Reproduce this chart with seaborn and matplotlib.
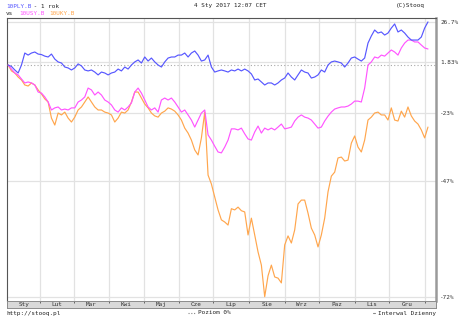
import numpy as np
import pandas as pd
import matplotlib
matplotlib.use("Agg")
import matplotlib.pyplot as plt
import matplotlib.dates as mdates
import seaborn as sns

# ---------------- data ----------------
symbols = ["10PLY.B", "10USY.B", "10UKY.B"]
start_date = "2016-01-04"
end_date = "2017-01-04"

pl_pct = [0, -0.8, -2.7, -4.3, 0, 6.8, 5.6, 6.8, 7.4, 6.2, 5.9, 5.0, 4.5, 6.2, 3.3, 1.7,
          1.1, -1.1, -1.6, -2.7, -1.6, 0.6, -0.5, -2.7, -3.2, -2.7, -3.8, -5.3, -3.8, -4.3,
          -5.3, -4.3, -3.8, -2.2, -3.2, -1.1, -2.2, 0, 1.7, 2.8, 1.1, 4.5, 2.2, 3.9, 1.7, 0,
          -1.1, 1.7, 3.9, 4.5, 4.5, 5.6, 5.6, 6.8, 4.5, 6.8, 8.0, 5.6, 2.2, 2.8, 5.6, -1.1,
          -3.8, -3.2, -2.7, -3.2, -3.8, -2.7, -3.2, -2.2, -3.2, -2.2, -3.2, -4.8, -7.9, -7.4,
          -8.9, -10.4, -9.4, -9.4, -10.4, -9.4, -7.9, -6.9, -4.3, -6.4, -7.9, -5.3, -2.7, -3.8,
          -4.3, -6.9, -6.4, -5.3, -2.7, -3.8, 0, 1.7, 2.2, 1.7, 1.1, -1.1, 1.1, 3.9, 4.5, 3.3,
          2.2, 3.9, 12.8, 17.3, 21.2, 19.2, 19.9, 17.9, 19.2, 22.5, 25.3, 19.9, 21.2, 19.2,
          16.6, 14.7, 14.7, 14.7, 16.6, 22.5, 26.7]

us_pct = [0, -2.2, -4.3, -5.3, -7.4, -9.4, -8.9, -9.4, -10.4, -13.8, -14.3, -16.1, -18.4,
          -21.9, -21.0, -20.6, -21.9, -21.5, -21.9, -21.0, -21.0, -18.4, -17.5, -16.1, -11.9,
          -12.8, -15.2, -13.8, -15.2, -17.5, -18.4, -19.7, -21.9, -22.8, -21.0, -21.9, -20.6,
          -18.8, -13.8, -11.9, -14.3, -17.5, -20.6, -21.9, -21.0, -22.8, -17.5, -16.6, -17.5,
          -16.6, -18.4, -20.6, -22.8, -21.9, -24.0, -26.1, -28.9, -26.1, -23.2, -21.9, -31.9,
          -33.8, -36.0, -38.0, -38.3, -36.3, -33.8, -29.6, -29.6, -30.0, -29.3, -31.5, -33.4,
          -33.8, -30.8, -28.5, -31.2, -29.3, -30.0, -29.3, -30.0, -28.9, -27.7, -29.6, -29.3,
          -28.9, -26.5, -24.9, -24.0, -24.9, -25.3, -26.1, -27.7, -29.3, -28.9, -26.5, -24.5,
          -22.8, -21.5, -21.0, -20.6, -20.6, -20.2, -19.3, -18.0, -18.0, -18.4, -11.9, 0, 1.7,
          4.5, 3.9, 5.6, 5.0, 6.8, 8.6, 7.4, 5.6, 9.8, 12.8, 14.7, 14.7, 13.5, 13.5, 11.6, 9.8,
          9.2]

uk_pct = [0, -3.2, -4.3, -6.4, -7.9, -10.4, -10.9, -9.4, -10.4, -12.8, -14.7, -17.0, -18.4,
          -25.3, -28.1, -23.2, -24.0, -22.8, -25.3, -26.9, -24.9, -21.9, -20.6, -18.4, -16.1,
          -18.4, -20.6, -21.9, -21.9, -22.8, -23.2, -24.0, -26.9, -25.3, -22.8, -23.2, -21.9,
          -18.4, -13.8, -13.8, -16.6, -19.3, -21.0, -23.2, -24.4, -24.9, -23.2, -22.4, -21.0,
          -21.5, -22.4, -24.0, -26.1, -29.3, -31.2, -33.8, -37.3, -39.0, -33.0, -22.8, -45.4,
          -48.0, -51.6, -54.9, -57.3, -57.8, -58.5, -54.6, -54.9, -54.2, -55.1, -55.4, -60.7,
          -56.9, -60.7, -64.2, -66.7, -72.0, -68.6, -66.7, -68.8, -69.0, -69.8, -62.8, -60.9,
          -62.4, -59.6, -53.4, -52.4, -52.4, -55.7, -59.2, -60.7, -63.2, -60.7, -56.9, -50.2,
          -45.7, -44.5, -40.0, -39.7, -41.0, -40.7, -34.9, -32.3, -36.3, -38.0, -33.8, -26.1,
          -24.9, -23.2, -22.8, -24.0, -24.0, -26.1, -21.0, -26.1, -26.5, -22.4, -24.9, -20.6,
          -24.4, -26.5, -27.7, -30.0, -33.0, -28.9]

months = ["Sty", "Lut", "Mar", "Kwi", "Maj", "Cze", "Lip", "Sie", "Wrz", "Paz", "Lis", "Gru"]
ytick_pct = [26.7, 1.83, -23, -47, -72]
ytick_labels = ["26.7%", "1.83%", "-23%", "-47%", "-72%"]

header_title = " - 1 rok"
header_date = "4 Sty 2017 12:07 CET"
header_copy = "(C)Stooq"
footer_url = "http://stooq.pl"
footer_zero = "Poziom 0%"
footer_interval = "Interwal Dzienny"

colors = {"10PLY.B": "#5757ff", "10USY.B": "#ff55ff", "10UKY.B": "#ffa64d"}

# ---------------- build frame ----------------
dates = pd.date_range(start_date, end_date, periods=len(pl_pct))
frames = []
for sym, vals in zip(symbols, [pl_pct, us_pct, uk_pct]):
    frames.append(pd.DataFrame({"date": dates, "symbol": sym,
                                "ratio": 1 + np.array(vals) / 100.0}))
df = pd.concat(frames, ignore_index=True)

# ---------------- figure ----------------
sns.set_style("white")
W, H = 462, 319
fig = plt.figure(figsize=(W / 100, H / 100), dpi=100)
fig.patch.set_facecolor("white")

mono = "DejaVu Sans Mono"
fs = 4.3

def fx(x):
    return x / W

def fy(y):
    return 1 - y / H

ax_l, ax_r, ax_t, ax_b = 7, 436, 18, 301
ax = fig.add_axes([fx(ax_l), fy(ax_b), (ax_r - ax_l) / W, (ax_b - ax_t) / H])
ax.set_facecolor("white")

# gridlines first
month_starts = pd.date_range("2016-02-01", "2017-01-01", freq="MS")
for d in month_starts:
    ax.axvline(d, color="#e2e2e2", lw=0.9, zorder=0)
for v in ytick_pct:
    ax.axhline(1 + v / 100.0, color="#e2e2e2", lw=0.9, zorder=0)
ax.axhline(1.0, color="#a8a8a8", lw=0.8, ls=(0, (1, 2)), zorder=1)

sns.lineplot(data=df, x="date", y="ratio", hue="symbol",
             hue_order=["10UKY.B", "10USY.B", "10PLY.B"],
             palette=colors, linewidth=0.85, legend=False, ax=ax, zorder=3)

ax.set_yscale("log")
ax.set_ylim(0.2734, 1.2947)
x0 = pd.Timestamp("2016-01-03")
x1 = pd.Timestamp("2017-01-11")
ax.set_xlim(x0, x1)
ax.set_xlabel("")
ax.set_ylabel("")

ax.yaxis.tick_right()
ax.set_yticks([1 + v / 100.0 for v in ytick_pct])
ax.set_yticklabels(ytick_labels, fontfamily=mono, fontsize=fs, color="#333333")
ax.yaxis.set_minor_locator(matplotlib.ticker.NullLocator())
ax.tick_params(axis="y", length=0, pad=3)
ax.set_xticks([])

for s in ["left", "top"]:
    ax.spines[s].set_color("#555555")
    ax.spines[s].set_linewidth(0.8)
ax.spines["bottom"].set_visible(False)
ax.spines["right"].set_color("#9a9a9a")
ax.spines["right"].set_linewidth(1.8)

# month band
band_t, band_b = 301, 307.5
axb = fig.add_axes([fx(ax_l), fy(band_b), (ax_r - ax_l) / W, (band_b - band_t) / H])
axb.set_facecolor("#d9d9d9")
axb.set_xlim(x0, x1)
axb.set_ylim(0, 1)
axb.set_yticks([])
axb.set_xticks(month_starts)
axb.set_xticklabels([])
axb.tick_params(axis="x", direction="in", length=1.5, width=0.6, color="#555555",
                top=True, bottom=False, labelbottom=False)
for s in axb.spines.values():
    s.set_color("#8c8c8c")
    s.set_linewidth(0.7)
bounds = [x0] + list(month_starts)
for i, m in enumerate(months):
    mid = bounds[i] + (bounds[i + 1] - bounds[i]) / 2
    axb.text(mid, 0.45, m, ha="center", va="center", fontfamily=mono,
             fontsize=fs, color="#333333")

# header
fig.text(fx(6), fy(6), symbols[0], color=colors["10PLY.B"], fontfamily=mono,
         fontsize=fs, ha="left", va="center")
fig.text(fx(6 + 7 * 3.4), fy(6), header_title, color="#222222", fontfamily=mono,
         fontsize=fs, ha="left", va="center")
fig.text(fx(230), fy(6), header_date, color="#222222", fontfamily=mono,
         fontsize=fs, ha="center", va="center")
fig.text(fx(425), fy(6), header_copy, color="#222222", fontfamily=mono,
         fontsize=fs, ha="right", va="center")
fig.text(fx(6), fy(13.5), "vs", color="#222222", fontfamily=mono,
         fontsize=fs, ha="left", va="center")
fig.text(fx(19.5), fy(13.5), symbols[1], color=colors["10USY.B"], fontfamily=mono,
         fontsize=fs, ha="left", va="center")
fig.text(fx(49), fy(13.5), symbols[2], color=colors["10UKY.B"], fontfamily=mono,
         fontsize=fs, ha="left", va="center")

# footer
fig.text(fx(6), fy(313), footer_url, color="#222222", fontfamily=mono,
         fontsize=fs, ha="left", va="center")
fig.add_artist(matplotlib.lines.Line2D([fx(188), fx(196)], [fy(313), fy(313)],
                                       color="#888888", lw=0.8, ls=(0, (1, 1.5))))
fig.text(fx(198), fy(313), footer_zero, color="#222222", fontfamily=mono,
         fontsize=fs, ha="left", va="center")
fig.add_artist(matplotlib.lines.Line2D([fx(373), fx(375)], [fy(313), fy(313)],
                                       color="#888888", lw=0.8))
fig.text(fx(436), fy(313), footer_interval, color="#222222", fontfamily=mono,
         fontsize=fs, ha="right", va="center")

fig.savefig("out.png", dpi=100, facecolor="white")
